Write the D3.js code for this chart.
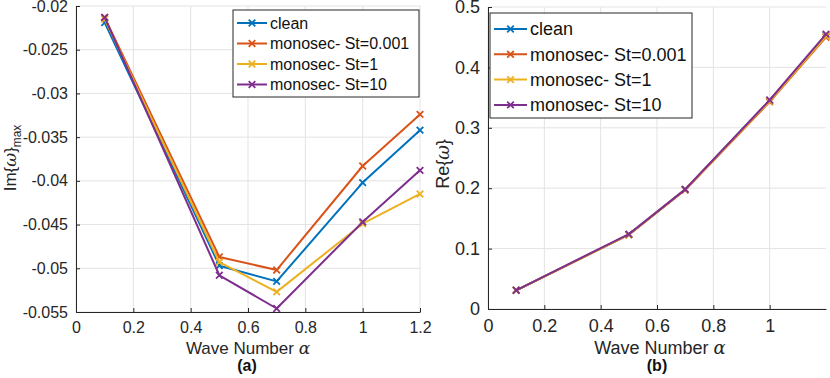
<!DOCTYPE html>
<html>
<head>
<meta charset="utf-8">
<script src="https://cdn.jsdelivr.net/npm/d3@7"></script>
<style>
  body { margin: 0; background: #fff; }
  svg { display: block; font-family: "Liberation Sans", Arial, sans-serif; }
</style>
</head>
<body>
<div id="chart"></div>
<script>
// Data
const waveNumbers = [0.1, 0.5, 0.7, 1.0, 1.2]
const seriesNames = ['clean', 'monosec- St=0.001', 'monosec- St=1', 'monosec- St=10']
const seriesColors = ['#0072BD', '#D95319', '#EDB120', '#7E2F8E']

const imClean = [-0.0219, -0.0497, -0.0515, -0.0402, -0.0342]
const imSt0001 = [-0.0213, -0.0487, -0.0502, -0.0383, -0.0324]
const imSt1 = [-0.0215, -0.0493, -0.0527, -0.0449, -0.0415]
const imSt10 = [-0.0213, -0.0508, -0.0546, -0.0447, -0.0388]

const reClean = [0.031, 0.123, 0.198, 0.345, 0.453]
const reSt0001 = [0.031, 0.123, 0.197, 0.343, 0.450]
const reSt1 = [0.031, 0.123, 0.198, 0.344, 0.452]
const reSt10 = [0.031, 0.124, 0.198, 0.346, 0.455]

const xTicksA = [0, 0.2, 0.4, 0.6, 0.8, 1, 1.2]
const yTicksA = [-0.02, -0.025, -0.03, -0.035, -0.04, -0.045, -0.05, -0.055]
const xTicksB = [0, 0.2, 0.4, 0.6, 0.8, 1]
const yTicksB = [0, 0.1, 0.2, 0.3, 0.4, 0.5]

const W = 830, H = 378
const svg = d3.select('#chart').append('svg').attr('width', W).attr('height', H)

function drawPanel(opt) {
    const x = d3.scaleLinear().domain(opt.xDomain).range([opt.left, opt.right])
    const y = d3.scaleLinear().domain(opt.yDomain).range([opt.bottom, opt.top])
    const g = svg.append('g')

    // grid
    g.selectAll('.vgrid').data(opt.xGrid).enter().append('line')
        .attr('x1', d => x(d)).attr('x2', d => x(d))
        .attr('y1', opt.top).attr('y2', opt.bottom)
        .attr('stroke', '#e3e3e3').attr('stroke-width', 1)
    g.selectAll('.hgrid').data(opt.yTicks).enter().append('line')
        .attr('x1', opt.left).attr('x2', opt.right)
        .attr('y1', d => y(d)).attr('y2', d => y(d))
        .attr('stroke', '#e3e3e3').attr('stroke-width', 1)

    // axes (MATLAB style: ticks inside), plain hyphen for minus
    const fmt = d => String(d)
    const xAxis = d3.axisBottom(x).tickValues(opt.xTicks).tickFormat(fmt).tickSizeInner(-4).tickSizeOuter(0).tickPadding(10)
    const yAxis = d3.axisLeft(y).tickValues(opt.yTicks).tickFormat(fmt).tickSizeInner(-4).tickSizeOuter(0).tickPadding(8)
    const gx = g.append('g').attr('transform', 'translate(0,' + opt.bottom + ')').call(xAxis)
    const gy = g.append('g').attr('transform', 'translate(' + opt.left + ',0)').call(yAxis)
    for (const a of [gx, gy]) {
        a.select('.domain').attr('stroke', '#262626').attr('stroke-width', 1)
        a.selectAll('.tick line').attr('stroke', '#262626')
        a.selectAll('.tick text').attr('fill', '#262626').attr('font-size', opt.tickSize)
            .attr('font-family', '"Liberation Sans", Arial, sans-serif')
    }

    // lines
    const line = d3.line().x((d, i) => x(waveNumbers[i])).y(d => y(d))
    opt.series.forEach((vals, k) => {
        g.append('path').datum(vals)
            .attr('d', line)
            .attr('fill', 'none')
            .attr('stroke', seriesColors[k])
            .attr('stroke-width', 2)
            .attr('stroke-linejoin', 'round')
        g.selectAll('.m' + k).data(vals).enter().append('path')
            .attr('transform', (d, i) => 'translate(' + x(waveNumbers[i]) + ',' + y(d) + ')')
            .attr('d', d3.symbol(d3.symbolTimes, 30))
            .attr('fill', 'none')
            .attr('stroke', seriesColors[k])
            .attr('stroke-width', 1.8)
    })

    // labels
    const xl = g.append('text')
        .attr('x', (opt.left + opt.right) / 2 + opt.xLabelDx)
        .attr('y', 354)
        .attr('text-anchor', 'middle')
        .attr('font-size', opt.labelSize)
        .attr('fill', '#262626')
    xl.append('tspan').text('Wave Number ')
    xl.append('tspan').attr('font-style', 'italic').attr('font-family', 'DejaVu Serif').text('α')

    g.append('text')
        .attr('x', opt.captionX)
        .attr('y', 371)
        .attr('text-anchor', 'middle')
        .attr('font-size', 16)
        .attr('font-weight', 'bold')
        .attr('fill', '#111')
        .text(opt.caption)

    const yl = g.append('text')
        .attr('transform', 'translate(' + opt.yLabelX + ',' + opt.yLabelY + ') rotate(-90)')
        .attr('text-anchor', 'middle')
        .attr('font-size', opt.yLabelSize)
        .attr('fill', '#262626')
    yl.append('tspan').text(opt.yLabel + '{')
    yl.append('tspan').attr('font-style', 'italic').attr('font-family', 'DejaVu Serif').text('ω')
    yl.append('tspan').text('}')
    if (opt.ySub) {
        yl.append('tspan').attr('font-size', opt.yLabelSize * 0.7).attr('dy', 5).text(opt.ySub)
    }

    // legend
    const lg = g.append('g').attr('transform', 'translate(' + opt.legX + ',' + opt.legY + ')')
    lg.append('rect')
        .attr('width', opt.legW).attr('height', opt.legH)
        .attr('fill', '#fff').attr('stroke', '#262626').attr('stroke-width', 1)
    seriesNames.forEach((name, k) => {
        const cy = opt.legPad + k * opt.legRow
        lg.append('line')
            .attr('x1', 4).attr('x2', 4 + opt.legLine)
            .attr('y1', cy).attr('y2', cy)
            .attr('stroke', seriesColors[k]).attr('stroke-width', 2)
        lg.append('path')
            .attr('transform', 'translate(' + (4 + opt.legLine / 2) + ',' + cy + ')')
            .attr('d', d3.symbol(d3.symbolTimes, 30))
            .attr('fill', 'none').attr('stroke', seriesColors[k]).attr('stroke-width', 1.8)
        lg.append('text')
            .attr('x', 7 + opt.legLine).attr('y', cy)
            .attr('dy', '0.35em')
            .attr('font-size', opt.legSize)
            .attr('fill', '#111')
            .text(name)
    })
}

drawPanel({
    left: 76, right: 420, top: 6, bottom: 312,
    xDomain: [0, 1.2], yDomain: [-0.055, -0.02],
    xTicks: xTicksA, xGrid: xTicksA, yTicks: yTicksA,
    series: [imClean, imSt0001, imSt1, imSt10],
    tickSize: 16, labelSize: 17, xLabelDx: 0,
    caption: '(a)', captionX: 247,
    yLabel: 'Im', ySub: 'max', yLabelX: 16, yLabelY: 158, yLabelSize: 17,
    legX: 233, legY: 10, legW: 186, legH: 87, legPad: 13, legRow: 20.5, legLine: 30, legSize: 16
})

drawPanel({
    left: 488, right: 826, top: 7, bottom: 309,
    xDomain: [0, 1.2], yDomain: [0, 0.5],
    xTicks: xTicksB, xGrid: xTicksB, yTicks: yTicksB,
    series: [reClean, reSt0001, reSt1, reSt10],
    tickSize: 18, labelSize: 18, xLabelDx: 3,
    caption: '(b)', captionX: 657,
    yLabel: 'Re', ySub: null, yLabelX: 449, yLabelY: 164, yLabelSize: 18,
    legX: 490, legY: 13, legW: 202, legH: 105, legPad: 16, legRow: 25.3, legLine: 33, legSize: 18
})
</script>
</body>
</html>
